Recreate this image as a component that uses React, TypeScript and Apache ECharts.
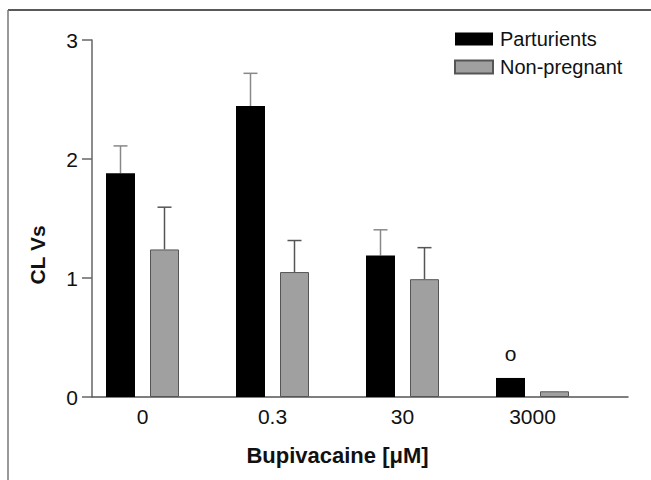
import React, { useEffect, useRef } from "react";
import * as echarts from "echarts";

const categories = ["0", "0.3", "30", "3000"];
const parturients = [1.88, 2.445, 1.19, 0.16];
const parturientsErr = [0.23, 0.275, 0.215, 0];
const nonPregnant = [1.24, 1.05, 0.99, 0.048];
const nonPregnantErr = [0.355, 0.265, 0.265, 0];
const yTicks = [0, 1, 2, 3];

const FONT = "Liberation Sans, Arial, Helvetica, sans-serif";

export default function App() {
  const ref = useRef<HTMLDivElement>(null);
  useEffect(() => {
    if (!ref.current) return;
    const chart = echarts.init(ref.current, undefined, { renderer: "svg" });
    const barWidth = 29;
    const gapPx = 15;
    const off = (barWidth + gapPx) / 2;

    const errSeries = (vals: number[], errs: number[], dir: number, color: string) => ({
      type: "custom",
      xAxisIndex: 0,
      yAxisIndex: 0,
      silent: true,
      z: 1,
      data: vals.map((v, i) => [i, v, errs[i]]),
      renderItem: (params: any, api: any) => {
        const i = api.value(0);
        const v = api.value(1);
        const e = api.value(2);
        if (!e) return null;
        const base = api.coord([i, v]);
        const top = api.coord([i, v + e]);
        const x = base[0] + dir * off;
        return {
          type: "group",
          children: [
            { type: "line", shape: { x1: x, y1: base[1], x2: x, y2: top[1] }, style: { stroke: color, lineWidth: 1.5 } },
            { type: "line", shape: { x1: x - 7, y1: top[1], x2: x + 7, y2: top[1] }, style: { stroke: color, lineWidth: 1.5 } },
          ],
        };
      },
    });

    chart.setOption({
      animation: false,
      backgroundColor: "#fff",
      legend: {
        orient: "vertical",
        left: 454,
        top: 29,
        padding: 0,
        icon: "rect",
        itemWidth: 38,
        itemHeight: 13,
        itemGap: 8,
        textStyle: { fontFamily: FONT, fontSize: 20, color: "#111", padding: [0, 0, 0, 2] },
        data: ["Parturients", "Non-pregnant"],
      },
      grid: [
        { left: 77.5, width: 520, top: 40, bottom: 83 },
        { left: 92, right: 23, top: 40, bottom: 83 },
      ],
      xAxis: [
        {
          type: "category",
          gridIndex: 0,
          data: categories,
          axisLine: { show: false },
          axisTick: { show: false },
          axisLabel: { fontFamily: FONT, fontSize: 21, color: "#111", margin: 9 },
          name: "Bupivacaine [μM]",
          nameLocation: "middle",
          nameGap: 47,
          nameTextStyle: { fontFamily: FONT, fontSize: 22, fontWeight: "bold", color: "#111" },
        },
        {
          type: "value",
          gridIndex: 1,
          min: 0,
          max: 1,
          axisLine: { show: true, lineStyle: { color: "#555", width: 1.5 } },
          axisTick: { show: false },
          axisLabel: { show: false },
          splitLine: { show: false },
        },
      ],
      yAxis: [
        {
          type: "value",
          gridIndex: 0,
          min: 0,
          max: 3,
          show: false,
        },
        {
          type: "value",
          gridIndex: 1,
          min: 0,
          max: 3,
          interval: 1,
          axisLine: { show: true, lineStyle: { color: "#666", width: 1.5 } },
          axisTick: { show: true, length: 10, lineStyle: { color: "#666", width: 1.5 } },
          axisLabel: {
            fontFamily: FONT,
            fontSize: 21,
            color: "#111",
            margin: 14,
            formatter: (v: number) => (yTicks.includes(v) ? String(v) : ""),
          },
          splitLine: { show: false },
        },
      ],
      series: [
        {
          name: "Parturients",
          type: "bar",
          xAxisIndex: 0,
          yAxisIndex: 0,
          barWidth,
          barGap: (gapPx / barWidth) * 100 + "%",
          itemStyle: { color: "#000" },
          z: 2,
          data: parturients.map((v, i) =>
            i === 3
              ? {
                  value: v,
                  label: {
                    show: true,
                    position: "top",
                    distance: 14,
                    formatter: "o",
                    fontFamily: FONT,
                    fontSize: 21,
                    color: "#111",
                  },
                }
              : v
          ),
        },
        {
          name: "Non-pregnant",
          type: "bar",
          xAxisIndex: 0,
          yAxisIndex: 0,
          barWidth,
          itemStyle: { color: "#a0a0a0", borderColor: "#555", borderWidth: 1 },
          z: 2,
          data: nonPregnant,
        },
        errSeries(parturients, parturientsErr, -1, "#888"),
        errSeries(nonPregnant, nonPregnantErr, 1, "#555"),
      ],
      graphic: [
        { type: "line", shape: { x1: 8, y1: 10, x2: 651, y2: 10 }, style: { stroke: "#222", lineWidth: 1.5 } },
        { type: "line", shape: { x1: 8, y1: 10, x2: 8, y2: 480 }, style: { stroke: "#777", lineWidth: 1.5 } },
        {
          type: "text",
          x: 37.5,
          y: 255,
          rotation: Math.PI / 2,
          style: {
            text: "CL Vs",
            fontFamily: FONT,
            fontSize: 21,
            fontWeight: "bold",
            fill: "#111",
            align: "center",
            verticalAlign: "middle",
          },
        },
      ],
    });
    return () => chart.dispose();
  }, []);
  return <div ref={ref} style={{ width: 651, height: 480, position: "absolute", left: 0, top: 0 }} />;
}
